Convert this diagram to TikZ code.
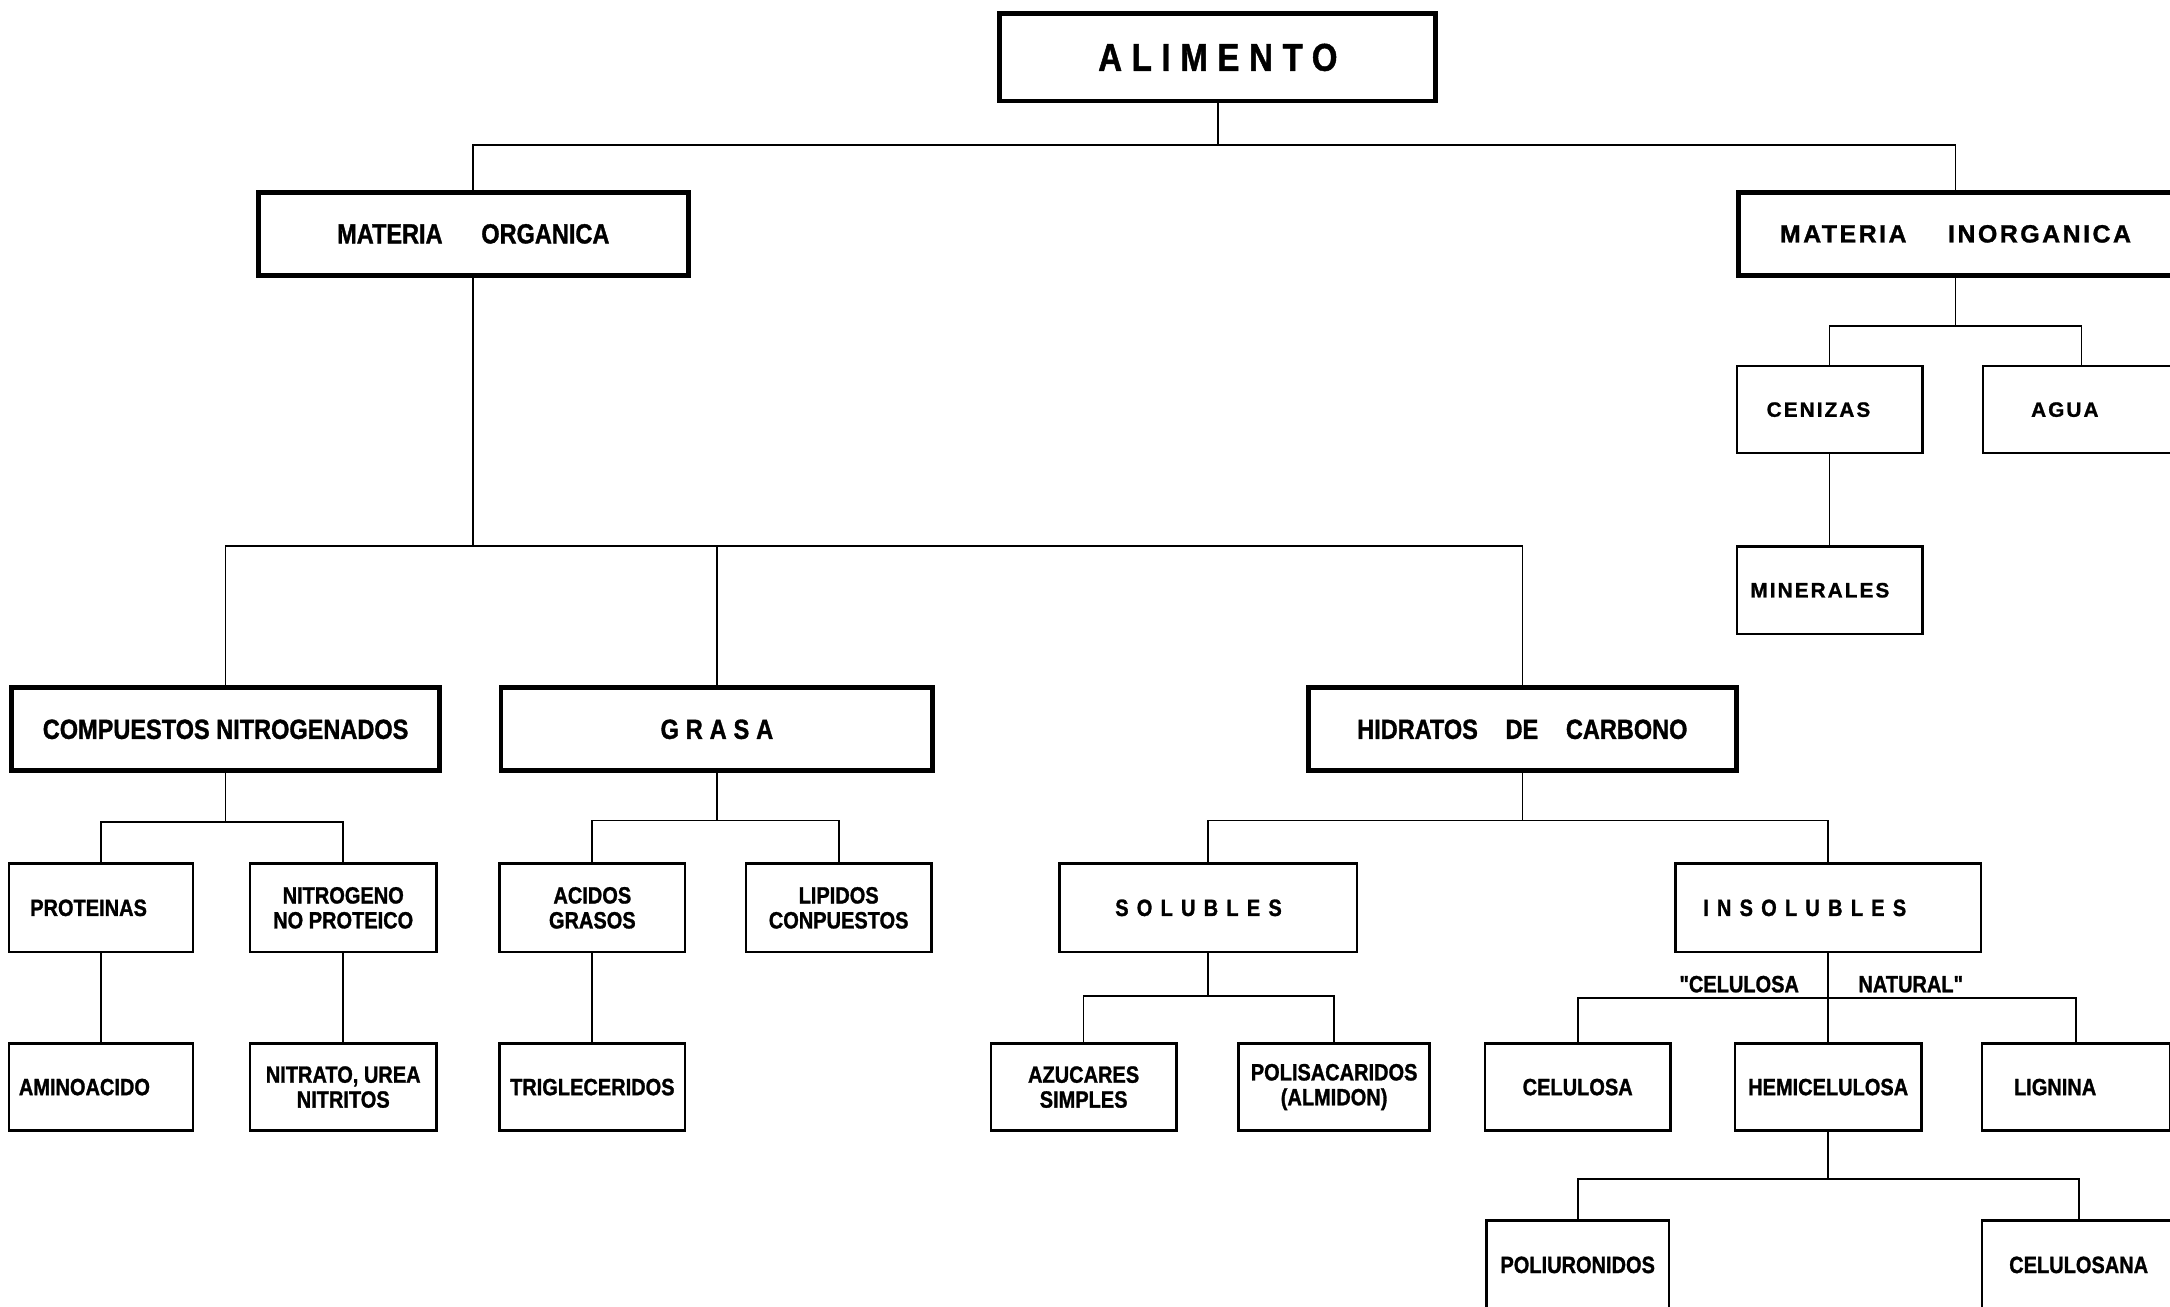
\documentclass[tikz,border=0pt]{standalone}
\usepackage{fontspec}
\setmainfont{Liberation Sans}
\newfontfamily\narrow[FakeStretch=0.85,FakeBold=1.2]{Liberation Sans}
\newfontfamily\narrowwide[FakeStretch=0.85,FakeBold=1.2,LetterSpace=25]{Liberation Sans}
\newfontfamily\narrowwider[FakeStretch=0.85,FakeBold=1.2,LetterSpace=35]{Liberation Sans}
\newfontfamily\wide[LetterSpace=10,FakeBold=1.2]{Liberation Sans}

\begin{document}
\begin{tikzpicture}[x=1pt,y=-1pt,
  bigbox/.style={draw,line width=3.5pt,inner sep=0pt,minimum height=60pt,
    font=\narrow\bfseries\fontsize{20}{22}\selectfont},
  smallbox/.style={draw,line width=1.8pt,inner sep=0pt,minimum height=63pt,
    align=center,font=\narrow\bfseries\fontsize{17}{18}\selectfont},
  inorgbox/.style={smallbox,font=\wide\bfseries\fontsize{15}{18}\selectfont},
  link/.style={line width=1.2pt}]
\useasboundingbox (0,0) rectangle (1568,944);
% Root and first level
\node[bigbox,minimum width=315pt,minimum height=63pt,
  font=\narrowwide\bfseries\fontsize{28}{30}\selectfont] (alim) at (880,41.5) {ALIMENTO\hspace{36pt}};
\node[bigbox,minimum width=311pt] (morg) at (342,169) {MATERIA\hspace{28pt}ORGANICA\hspace{38pt}};
\node[bigbox,minimum width=314pt,font=\wide\bfseries\fontsize{18}{20}\selectfont]
  (minorg) at (1413,169) {MATERIA\hspace{30pt}INORGANICA\hspace{42pt}};
% Inorganic side
\node[inorgbox,minimum width=134pt] (ceniz) at (1322,296) {CENIZAS\hspace{16pt}};
\node[inorgbox,minimum width=142pt] (agua) at (1504,296) {AGUA\hspace{24pt}};
\node[inorgbox,minimum width=134pt] (miner) at (1322,426.5) {MINERALES\hspace{14pt}};
% Organic groups
\node[bigbox,minimum width=309pt] (comp) at (163,527) {COMPUESTOS NITROGENADOS};
\node[bigbox,minimum width=312pt,font=\narrowwide\bfseries\fontsize{20}{22}\selectfont]
  (grasa) at (518,527) {GRASA\hspace{54pt}};
\node[bigbox,minimum width=309pt] (hidr) at (1100,527) {HIDRATOS\hspace{20pt}DE\hspace{20pt}CARBONO};
% Nitrogen compounds and fats
\node[smallbox,minimum width=133pt,minimum height=64pt] (prot) at (73,656) {PROTEINAS\hspace{18pt}};
\node[smallbox,minimum width=135pt,minimum height=64pt] (nitro) at (248,656) {NITROGENO\\NO PROTEICO};
\node[smallbox,minimum width=134pt,minimum height=64pt] (acid) at (428,656) {ACIDOS\\GRASOS};
\node[smallbox,minimum width=134pt,minimum height=64pt] (lip) at (606,656) {LIPIDOS\\CONPUESTOS};
\node[smallbox,minimum width=133pt] (amino) at (73,785.5) {AMINOACIDO\hspace{24pt}};
\node[smallbox,minimum width=135pt] (nitra) at (248,785.5) {NITRATO, UREA\\NITRITOS};
\node[smallbox,minimum width=134pt] (trig) at (428,785.5) {TRIGLECERIDOS};
% Carbohydrates
\node[smallbox,minimum width=215pt,minimum height=64pt,font=\narrowwider\bfseries\fontsize{17}{18}\selectfont]
  (sol) at (873,656) {SOLUBLES\hspace{14pt}};
\node[smallbox,minimum width=221pt,minimum height=64pt,font=\narrowwider\bfseries\fontsize{17}{18}\selectfont]
  (insol) at (1321,656) {INSOLUBLES\hspace{34pt}};
\node[smallbox,minimum width=134pt] (azuc) at (783,785.5) {AZUCARES\\SIMPLES};
\node[smallbox,minimum width=138pt] (polis) at (964,785.5) {POLISACARIDOS\\(ALMIDON)};
\node[smallbox,minimum width=134pt] (celu) at (1140,785.5) {CELULOSA};
\node[smallbox,minimum width=135pt] (hemi) at (1321,785.5) {HEMICELULOSA};
\node[smallbox,minimum width=136pt] (lign) at (1500,785.5) {LIGNINA\hspace{30pt}};
\node[smallbox,minimum width=132pt,minimum height=64pt] (poliu) at (1140,914) {POLIURONIDOS};
\node[smallbox,minimum width=140pt,minimum height=64pt] (celsana) at (1502,914) {CELULOSANA};
% Label over the insoluble bus
\node[anchor=base,inner sep=0pt,font=\narrow\bfseries\fontsize{17}{18}\selectfont]
  (natural) at (1316,717) {"CELULOSA\hspace{43pt}NATURAL"};
% Tree connectors
\foreach \p/\d/\l/\r in {alim/30/morg/minorg, minorg/35/ceniz/agua, morg/194/comp/hidr,
    comp/35/prot/nitro, grasa/34/acid/lip, hidr/34/sol/insol, sol/31/azuc/polis,
    insol/32/celu/lign, hemi/34/poliu/celsana} {
  \draw[link] (\p.south) -- ++(0,\d) coordinate (bus-\p);
  \draw[link] (\l.north) |- (bus-\p) -| (\r.north);
}
\draw[link] (grasa.north) -- (grasa.north |- bus-morg);
\foreach \a/\b in {ceniz/miner, prot/amino, nitro/nitra, acid/trig, insol/hemi}
  \draw[link] (\a.south) -- (\b.north);
\end{tikzpicture}
\end{document}
